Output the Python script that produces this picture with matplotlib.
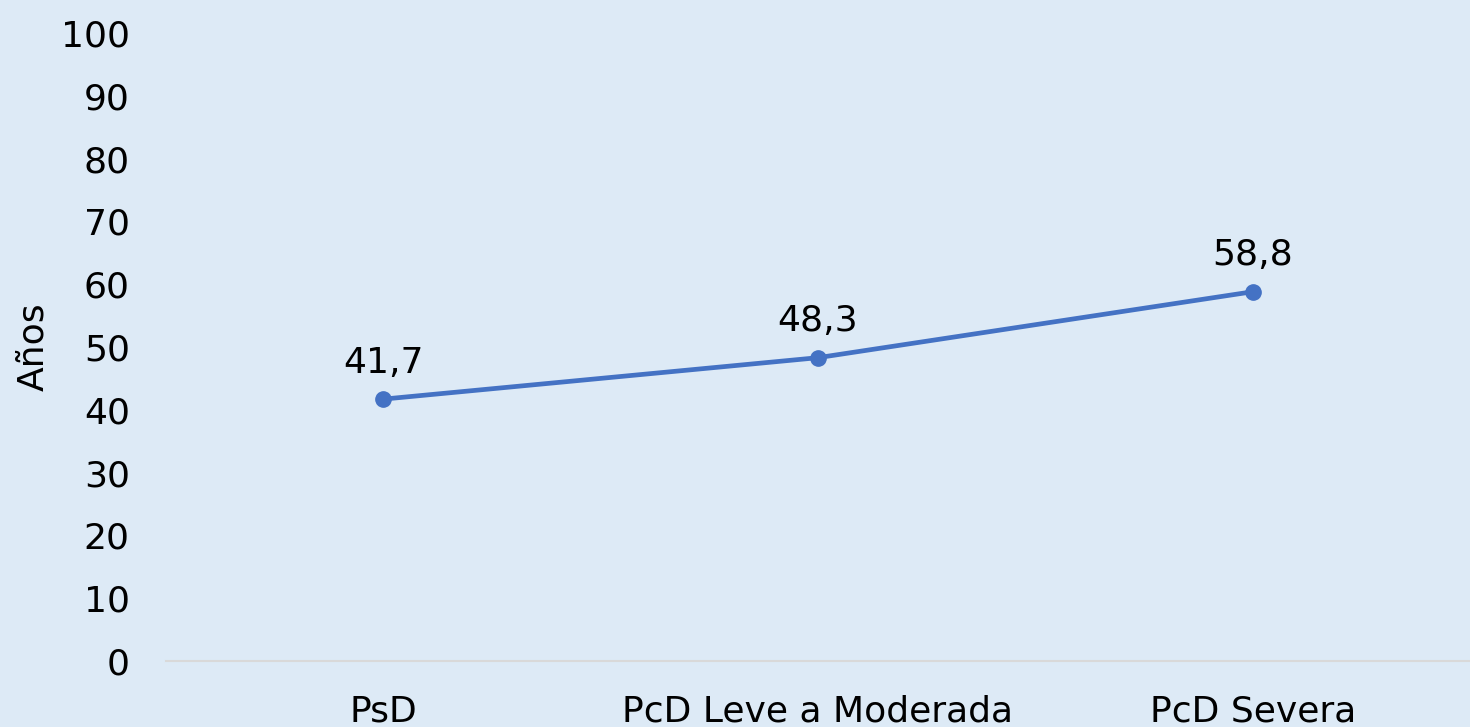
import matplotlib.pyplot as plt

plt.rcParams['font.family'] = ['DejaVu Sans']

categories = ["PsD", "PcD Leve a Moderada", "PcD Severa"]
values     = [41.7, 48.3, 58.8]
labels     = ["41,7", "48,3", "58,8"]
y_ticks    = list(range(0, 101, 10))

BG   = "#DDEAF6"
LINE = "#4472C4"
FS   = 26

fig = plt.figure(figsize=(14.7, 7.27), dpi=100, facecolor=BG)
ax = fig.add_axes([0.1129, 0.0908, 0.8871, 0.8638], facecolor=BG)

x = [i + 0.5 for i in range(len(categories))]
ax.plot(x, values, color=LINE, linewidth=3.4, marker="o", markersize=11)
for xi, v, lab in zip(x, values, labels):
    ax.annotate(lab, (xi, v), xytext=(0, 14), textcoords="offset points",
                ha="center", va="bottom", fontsize=FS, color="black")

ax.set_xlim(0, 3); ax.set_ylim(0, 100)
ax.set_xticks(x); ax.set_xticklabels(categories)
ax.set_yticks(y_ticks)
ax.tick_params(axis="both", length=0, labelsize=FS, colors="black")
ax.tick_params(axis="x", pad=24)
ax.tick_params(axis="y", pad=26)
ax.set_ylabel("Años", fontsize=FS, labelpad=8)

for s in ["top", "right", "left"]:
    ax.spines[s].set_visible(False)
ax.spines["bottom"].set_color("#D9D9D9"); ax.spines["bottom"].set_linewidth(1.5)

fig.savefig("out.png", facecolor=BG)
